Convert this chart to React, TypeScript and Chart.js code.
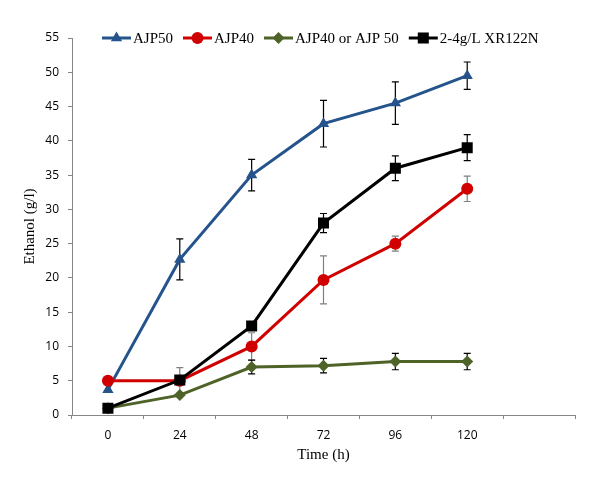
import React, { useEffect, useRef } from 'react';
import { Chart, registerables } from 'chart.js';

Chart.register(...registerables);

// ---- data ----
const timeLabels = ['0', '24', '48', '72', '96', '120', ''];
const seriesNames = ['AJP50', 'AJP40', 'AJP40 or AJP 50', '2-4g/L XR122N'];
const ajp50 = [3.7, 22.7, 35.0, 42.5, 45.5, 49.5];
const ajp50Err = [0, 3.0, 2.3, 3.4, 3.1, 2.0];
const ajp40 = [5.0, 5.0, 10.0, 19.7, 25.0, 33.0];
const ajp40Err = [0, 1.9, 2.0, 3.5, 1.1, 1.85];
const ajpEither = [1.0, 2.9, 7.0, 7.2, 7.8, 7.8];
const ajpEitherErr = [0, 0, 1.0, 1.05, 1.2, 1.2];
const xr122n = [1.0, 5.1, 13.0, 28.0, 36.0, 39.0];
const xr122nErr = [0, 0.4, 0.5, 1.4, 1.8, 1.9];
const yMin = 0;
const yMax = 55;
const yStep = 5;

// ---- styles ----
const colors = ['#25538C', '#D00000', '#4F6228', '#000000'];
const errColors = ['#000000', '#808080', '#000000', '#000000'];
const styles = ['triangle', 'circle', 'rectRot', 'rect'];
const radii = [6.5, 6, 6, 7.8];
const values = [ajp50, ajp40, ajpEither, xr122n];
const errors = [ajp50Err, ajp40Err, ajpEitherErr, xr122nErr];

function drawMarker(ctx: CanvasRenderingContext2D, style: string, x: number, y: number, r: number) {
  ctx.beginPath();
  if (style === 'circle') {
    ctx.arc(x, y, r, 0, Math.PI * 2);
  } else if (style === 'triangle') {
    for (let k = 0; k < 3; k++) {
      const a = (k * 2 * Math.PI) / 3;
      const px = x + Math.sin(a) * r;
      const py = y - Math.cos(a) * r;
      if (k === 0) ctx.moveTo(px, py);
      else ctx.lineTo(px, py);
    }
  } else if (style === 'rectRot') {
    ctx.moveTo(x, y - r);
    ctx.lineTo(x + r, y);
    ctx.lineTo(x, y + r);
    ctx.lineTo(x - r, y);
  } else {
    const s = Math.SQRT1_2 * r;
    ctx.rect(x - s, y - s, 2 * s, 2 * s);
  }
  ctx.closePath();
  ctx.fill();
}

const errorBarPlugin = {
  id: 'errorBars',
  beforeDatasetsDraw(chart: any) {
    const ctx = chart.ctx as CanvasRenderingContext2D;
    const xs = chart.scales.x;
    const ys = chart.scales.y;
    ctx.save();
    values.forEach((vals, i) => {
      ctx.strokeStyle = errColors[i];
      ctx.lineWidth = 1.2;
      vals.forEach((v, j) => {
        const e = errors[i][j];
        if (!e) return;
        const x = xs.getPixelForValue(j);
        const yt = ys.getPixelForValue(v + e);
        const yb = ys.getPixelForValue(v - e);
        ctx.beginPath();
        ctx.moveTo(x, yt);
        ctx.lineTo(x, yb);
        ctx.moveTo(x - 3.5, yt);
        ctx.lineTo(x + 3.5, yt);
        ctx.moveTo(x - 3.5, yb);
        ctx.lineTo(x + 3.5, yb);
        ctx.stroke();
      });
    });
    ctx.restore();
  },
};

const legendPlugin = {
  id: 'lineLegend',
  afterDraw(chart: any) {
    const ctx = chart.ctx as CanvasRenderingContext2D;
    ctx.save();
    ctx.font = "15px 'Liberation Serif'";
    ctx.textBaseline = 'middle';
    ctx.textAlign = 'left';
    const y = 30;
    let x = 94;
    seriesNames.forEach((name, i) => {
      ctx.strokeStyle = colors[i];
      ctx.fillStyle = colors[i];
      ctx.lineWidth = 3;
      ctx.beginPath();
      ctx.moveTo(x, y);
      ctx.lineTo(x + 29, y);
      ctx.stroke();
      drawMarker(ctx, styles[i], x + 14.5, y, radii[i]);
      ctx.fillStyle = '#000000';
      const tx = x + 31;
      ctx.fillText(name, tx, y + 1);
      x = tx + ctx.measureText(name).width + 10;
    });
    ctx.restore();
  },
};

export default function App() {
  const ref = useRef<HTMLCanvasElement>(null);
  useEffect(() => {
    const chart = new Chart(ref.current as HTMLCanvasElement, {
      type: 'line',
      data: {
        labels: timeLabels,
        datasets: seriesNames.map((name, i) => ({
          label: name,
          data: values[i],
          borderColor: colors[i],
          backgroundColor: colors[i],
          borderWidth: 3,
          pointStyle: styles[i] as any,
          pointRadius: radii[i],
          pointBorderWidth: 0,
          pointBackgroundColor: colors[i],
          pointBorderColor: colors[i],
          tension: 0,
          order: 4 - i,
        })),
      },
      options: {
        animation: false,
        responsive: true,
        maintainAspectRatio: false,
        layout: { padding: { top: 30, right: 17, left: 0, bottom: 0 } },
        plugins: {
          legend: { display: false },
          tooltip: { enabled: false },
        },
        scales: {
          x: {
            type: 'category',
            offset: true,
            grid: {
              offset: true,
              drawOnChartArea: false,
              drawTicks: true,
              tickLength: 4,
              color: '#868686',
            },
            border: { color: '#868686', width: 1 },
            ticks: {
              font: { family: "'Open Sans'", size: 12 },
              color: '#000000',
              padding: 9,
              maxRotation: 0,
              autoSkip: false,
            },
            title: {
              display: true,
              text: 'Time (h)',
              font: { family: "'Liberation Serif'", size: 15 },
              color: '#000000',
              padding: { top: 0, bottom: 7 },
            },
            afterFit: (s: any) => {
              s.height = 56;
            },
          },
          y: {
            min: yMin,
            max: yMax,
            grid: {
              drawOnChartArea: false,
              drawTicks: true,
              tickLength: 4,
              color: '#868686',
            },
            border: { color: '#868686', width: 1 },
            ticks: {
              stepSize: yStep,
              font: { family: "'Open Sans'", size: 12 },
              color: '#000000',
              padding: 9,
            },
            title: {
              display: true,
              text: 'Ethanol (g/l)',
              font: { family: "'Liberation Serif'", size: 15 },
              color: '#000000',
              padding: { top: 13, bottom: 0 },
            },
            afterFit: (s: any) => {
              s.width = 64;
            },
          },
        },
      },
      plugins: [errorBarPlugin, legendPlugin],
    });
    return () => chart.destroy();
  }, []);
  return (
    <div style={{ width: 584, height: 463, position: 'relative' }}>
      <canvas ref={ref} />
    </div>
  );
}
